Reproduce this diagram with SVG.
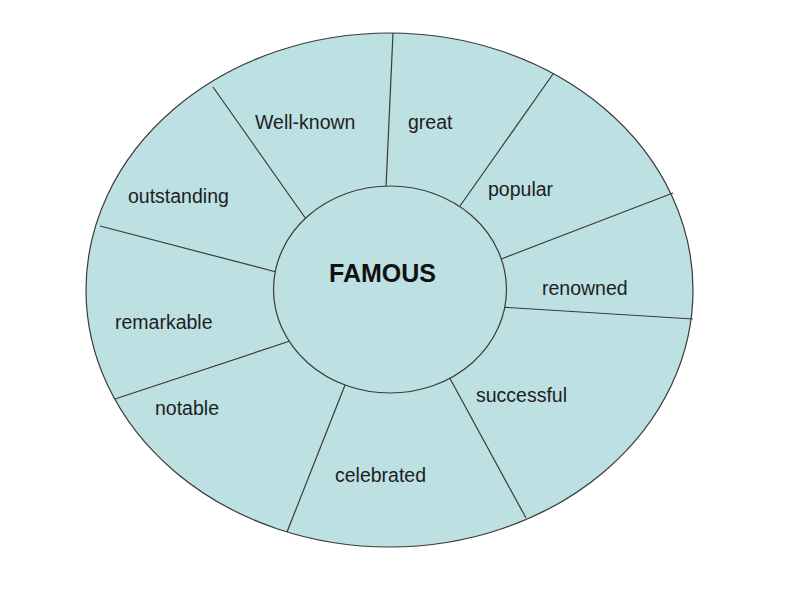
<svg xmlns="http://www.w3.org/2000/svg" width="800" height="600" viewBox="0 0 800 600">
  <style>
    .shape { fill: #bde0e3; stroke: #3a3a3a; stroke-width: 1.2; }
    .div { stroke: #3a3a3a; stroke-width: 1.2; fill: none; }
    .lbl { font-family: "Liberation Sans", Arial, sans-serif; font-size: 19.5px; fill: #1e1e1e; }
    .title { font-family: "Liberation Sans", Arial, sans-serif; font-size: 25px; font-weight: bold; fill: #111; }
  </style>
  <rect width="800" height="600" fill="#ffffff"/>
  <g id="outer">
    <ellipse class="shape" cx="389.5" cy="290" rx="303.5" ry="257"/>
  </g>
  <g id="connectors">
    <line class="div" x1="306" y1="219" x2="213" y2="87"/>
    <line class="div" x1="386" y1="187" x2="393" y2="33"/>
    <line class="div" x1="460" y1="206" x2="553" y2="74"/>
    <line class="div" x1="501" y1="259" x2="673" y2="193"/>
    <line class="div" x1="500" y1="307" x2="693" y2="319"/>
    <line class="div" x1="447" y1="373" x2="526" y2="518"/>
    <line class="div" x1="347" y1="380" x2="287" y2="532"/>
    <line class="div" x1="293" y1="340" x2="115" y2="399"/>
    <line class="div" x1="280" y1="273" x2="100" y2="226"/>
  </g>
  <g id="center">
    <ellipse class="shape" cx="390" cy="289.5" rx="116.5" ry="103.5"/>
    <text class="title" x="329" y="282">FAMOUS</text>
  </g>
  <g id="well-known"><text class="lbl" x="255" y="129">Well-known</text></g>
  <g id="great"><text class="lbl" x="408" y="129">great</text></g>
  <g id="popular"><text class="lbl" x="488" y="196">popular</text></g>
  <g id="renowned"><text class="lbl" x="542" y="295">renowned</text></g>
  <g id="successful"><text class="lbl" x="476" y="402">successful</text></g>
  <g id="celebrated"><text class="lbl" x="335" y="482">celebrated</text></g>
  <g id="notable"><text class="lbl" x="155" y="415">notable</text></g>
  <g id="remarkable"><text class="lbl" x="115" y="329">remarkable</text></g>
  <g id="outstanding"><text class="lbl" x="128" y="203">outstanding</text></g>
</svg>
